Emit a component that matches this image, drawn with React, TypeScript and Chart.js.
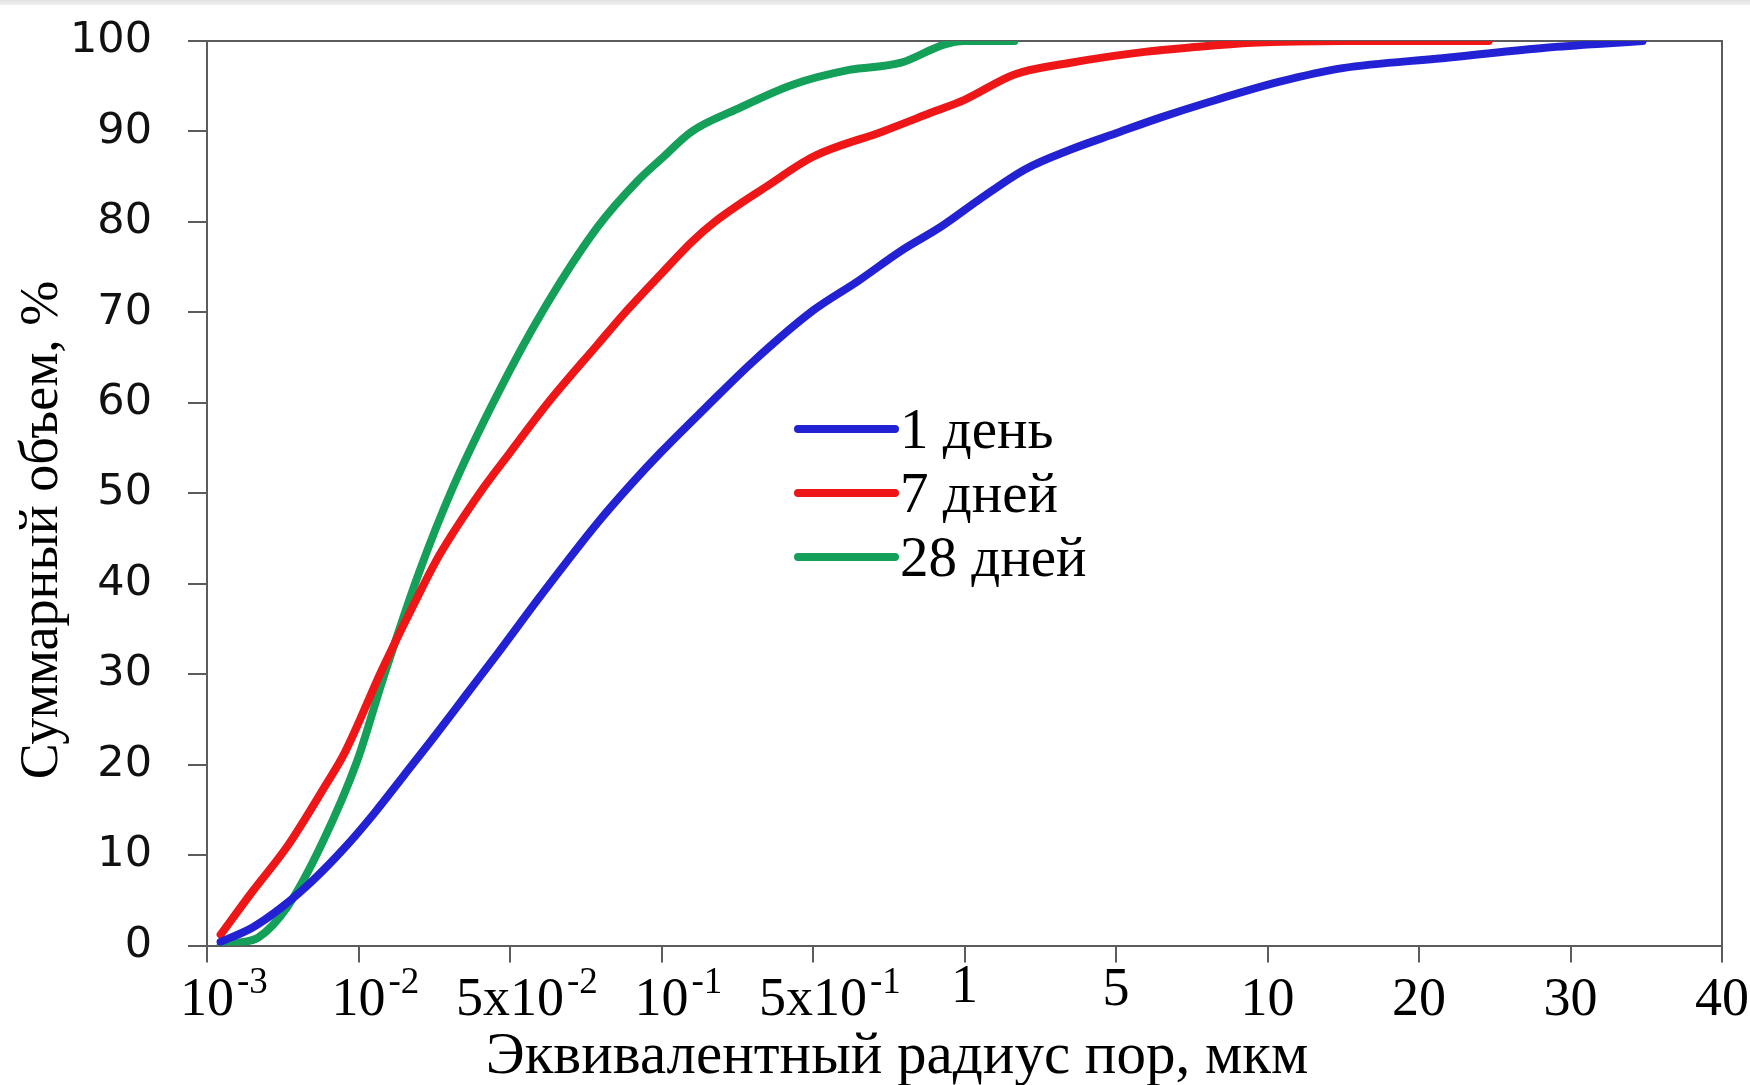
import React, { useEffect, useRef } from "react";
import { Chart, registerables } from "chart.js";

Chart.register(...registerables);

// X axis: equally spaced ticks with these radius values (µm)
const tickValues = [0.001, 0.01, 0.05, 0.1, 0.5, 1, 5, 10, 20, 30, 40];
const tickBase = ["10", "10", "5x10", "10", "5x10", "1", "5", "10", "20", "30", "40"];
const tickExp = ["-3", "-2", "-2", "-1", "-1", "", "", "", "", "", ""];

const seriesNames = ["1 день", "7 дней", "28 дней"];
const seriesColors = ["#2222D4", "#EE1616", "#15A05A"];

// 1 день
const radius1 = [0.00123, 0.002, 0.0031, 0.005, 0.0081, 0.0118, 0.0162, 0.0224, 0.0309, 0.0439, 0.0574, 0.0748, 0.087, 0.1, 0.162, 0.263, 0.5, 0.616, 0.748, 0.9, 1.175, 1.9, 3.09, 5.0, 6.1, 7.6, 10.57, 14.1, 21.3, 27.7, 31.8, 34.4];
const volume1 = [0.4, 2.0, 4.2, 7.2, 10.8, 14.6, 18.8, 23.1, 27.5, 32.3, 38.6, 46.8, 51.0, 54.6, 59.6, 64.5, 70.2, 73.5, 76.8, 79.5, 82.5, 85.8, 88.0, 89.8, 91.5, 93.2, 95.5, 97.0, 98.1, 99.2, 99.7, 100];

// 7 дней
const radius7 = [0.00123, 0.002, 0.0034, 0.006, 0.0081, 0.0129, 0.0197, 0.0238, 0.0362, 0.05, 0.0595, 0.0748, 0.0847, 0.1, 0.138, 0.176, 0.309, 0.5, 0.688, 0.87, 1.0, 1.7, 3.09, 5.7, 7.07, 9.33, 14.1, 24.1];
const volume7 = [1.2, 6.0, 11.0, 17.6, 21.3, 30.6, 39.6, 43.3, 50.0, 54.5, 60.0, 66.5, 70.0, 74.3, 77.8, 80.0, 84.0, 87.2, 90.0, 92.2, 93.5, 96.3, 97.6, 98.8, 99.3, 99.8, 100, 100];

// 28 дней
const radius28 = [0.00123, 0.00158, 0.00219, 0.0034, 0.00575, 0.0098, 0.0129, 0.019, 0.0271, 0.0439, 0.0586, 0.0748, 0.0895, 0.1, 0.138, 0.224, 0.406, 0.59, 0.748, 0.91, 1.0, 1.7];
const volume28 = [0, 0.3, 0.9, 4.3, 11.3, 20.4, 29.3, 41.2, 50.5, 61.0, 70.5, 79.5, 84.5, 87.0, 90.0, 92.5, 95.2, 96.8, 97.6, 99.6, 100, 100];

const radii = [radius1, radius7, radius28];
const volumes = [volume1, volume7, volume28];

const xTitle = "Эквивалентный радиус пор, мкм";
const yTitle = "Суммарный объем, %";

// map a radius onto the equally spaced tick index axis (log within each segment)
function toAxis(r: number): number {
  for (let i = 0; i < tickValues.length - 1; i++) {
    const a = tickValues[i];
    const b = tickValues[i + 1];
    if (r <= b || i === tickValues.length - 2) {
      return i + Math.log(r / a) / Math.log(b / a);
    }
  }
  return 0;
}

const SERIF = '"Liberation Serif", "Times New Roman", serif';
const AXIS_COLOR = "#5c5c5c";

const decor = {
  id: "decor",
  beforeDraw(chart: any) {
    const { ctx, width, height } = chart;
    ctx.save();
    ctx.fillStyle = "#ffffff";
    ctx.fillRect(0, 0, width, height);
    const g = ctx.createLinearGradient(0, 0, 0, 6);
    g.addColorStop(0, "#e2e2e2");
    g.addColorStop(1, "#f3f3f3");
    ctx.fillStyle = g;
    ctx.fillRect(0, 0, width, 5);
    ctx.restore();
  },
  beforeDatasetsDraw(chart: any) {
    const { ctx, chartArea: a } = chart;
    ctx.save();
    ctx.strokeStyle = AXIS_COLOR;
    ctx.lineWidth = 2;
    ctx.beginPath();
    ctx.moveTo(a.left, a.top);
    ctx.lineTo(a.right, a.top);
    ctx.lineTo(a.right, a.bottom);
    ctx.stroke();
    ctx.restore();
  },
  afterDraw(chart: any) {
    const { ctx, chartArea: a, scales } = chart;
    const xs = scales.x;
    ctx.save();
    ctx.fillStyle = "#000";
    ctx.textBaseline = "alphabetic";
    // x tick labels with superscripts
    tickBase.forEach((b, i) => {
      const px = xs.getPixelForValue(i);
      ctx.font = `54px ${SERIF}`;
      const w = ctx.measureText(b).width;
      let base = a.bottom + 69;
      if (b === "1") base -= 13;
      if (b === "5") base -= 10;
      ctx.textAlign = "left";
      ctx.fillText(b, px - w / 2, base);
      if (tickExp[i]) {
        ctx.font = `37px ${SERIF}`;
        ctx.fillText(tickExp[i], px + w / 2 + 3, base - 22);
      }
    });
    // x title
    ctx.font = `59px ${SERIF}`;
    ctx.textAlign = "center";
    ctx.fillText(xTitle, 897, 1073);
    // y title
    ctx.save();
    ctx.translate(57, 530);
    ctx.rotate(-Math.PI / 2);
    ctx.font = `54px ${SERIF}`;
    ctx.textAlign = "center";
    ctx.fillText(yTitle, 0, 0);
    ctx.restore();
    // legend
    const rows = [429, 493, 557];
    seriesNames.forEach((name, k) => {
      const y = rows[k];
      ctx.strokeStyle = seriesColors[k];
      ctx.lineWidth = 8;
      ctx.lineCap = "round";
      ctx.beginPath();
      ctx.moveTo(798, y);
      ctx.lineTo(895, y);
      ctx.stroke();
      ctx.fillStyle = "#000";
      ctx.font = `57px ${SERIF}`;
      ctx.textAlign = "left";
      ctx.fillText(name, 900, y + 19);
    });
    ctx.restore();
  },
};

export default function App() {
  const ref = useRef<HTMLCanvasElement>(null);
  useEffect(() => {
    document.body.style.margin = "0";
    const canvas = ref.current!;
    const datasets = seriesNames.map((name, k) => ({
      label: name,
      data: radii[k].map((r, i) => ({ x: toAxis(r), y: volumes[k][i] })),
      borderColor: seriesColors[k],
      backgroundColor: seriesColors[k],
      borderWidth: 8,
      pointRadius: 0,
      fill: false,
      cubicInterpolationMode: "monotone" as const,
      borderCapStyle: "round" as const,
      borderJoinStyle: "round" as const,
    }));
    const chart = new Chart(canvas, {
      type: "line",
      data: { datasets },
      options: {
        animation: false,
        responsive: false,
        devicePixelRatio: 1,
        layout: { padding: { left: 0, top: 41, right: 28, bottom: 0 } },
        plugins: { legend: { display: false }, tooltip: { enabled: false } },
        scales: {
          x: {
            type: "linear",
            min: 0,
            max: 10,
            afterFit: (s: any) => {
              s.height = 139.5;
              s.paddingLeft = 0;
              s.paddingRight = 0;
            },
            ticks: { stepSize: 1, display: false },
            grid: {
              drawOnChartArea: false,
              drawTicks: true,
              tickLength: 17,
              tickColor: AXIS_COLOR,
              lineWidth: 2,
            },
            border: { display: true, color: AXIS_COLOR, width: 2 },
          },
          y: {
            type: "linear",
            min: 0,
            max: 100,
            afterFit: (s: any) => {
              s.width = 207;
              s.paddingTop = 0;
              s.paddingBottom = 0;
            },
            ticks: {
              stepSize: 10,
              padding: 36,
              color: "#111",
              font: { family: '"DejaVu Sans", Verdana, sans-serif', size: 43 },
            },
            grid: {
              drawOnChartArea: false,
              drawTicks: true,
              tickLength: 19,
              tickColor: AXIS_COLOR,
              lineWidth: 2,
            },
            border: { display: true, color: AXIS_COLOR, width: 2 },
          },
        },
      },
      plugins: [decor],
    });
    return () => chart.destroy();
  }, []);
  return (
    <div style={{ width: 1750, height: 1085 }}>
      <canvas ref={ref} width={1750} height={1085} style={{ display: "block" }} />
    </div>
  );
}
